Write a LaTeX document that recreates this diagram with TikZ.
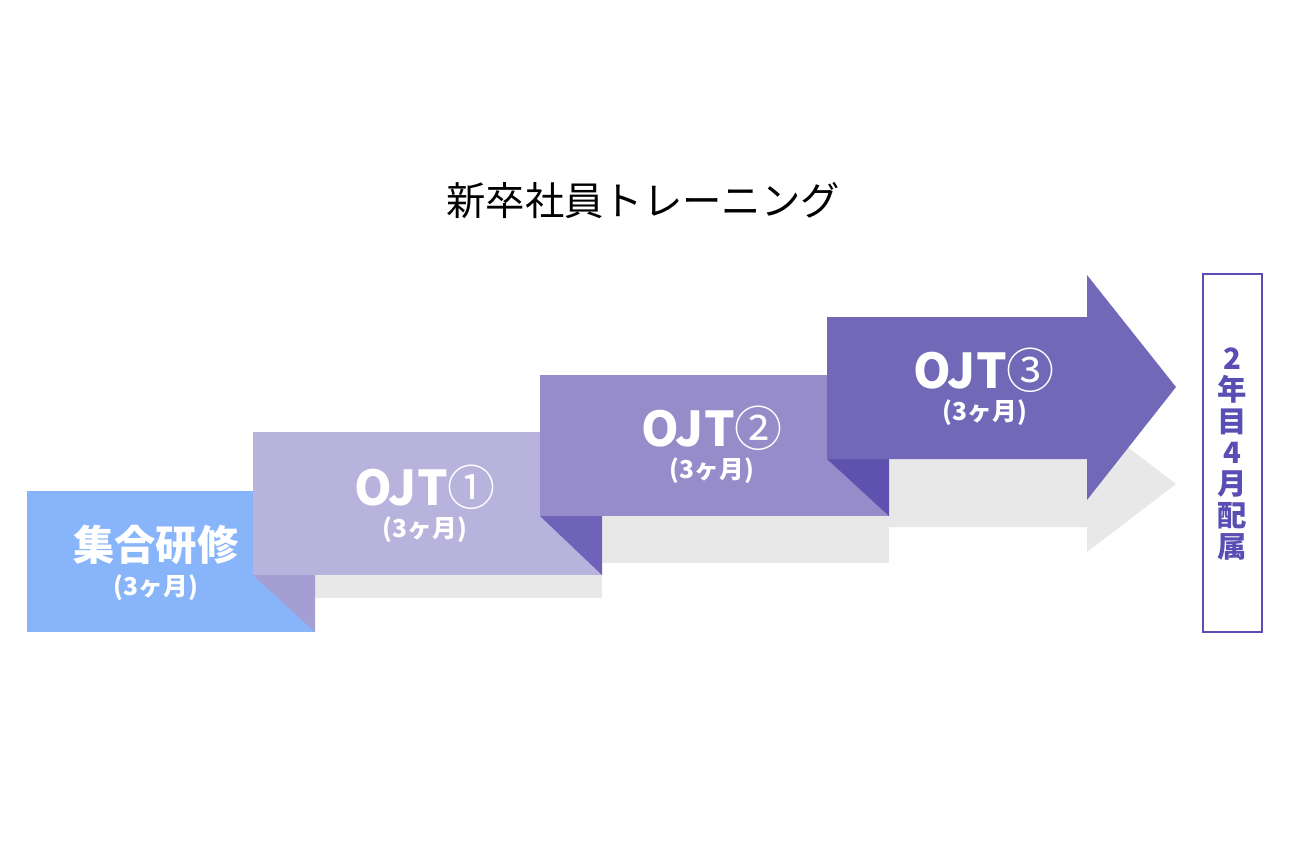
\documentclass[tikz,border=0pt]{standalone}
\usepackage{fontspec}
\newfontfamily\jp{Noto Sans CJK JP}
\definecolor{cblue}{HTML}{88B4FA}
\definecolor{cb2}{HTML}{B8B3DC}
\definecolor{cf1}{HTML}{A49ED2}
\definecolor{cb3}{HTML}{958CC9}
\definecolor{cf2}{HTML}{6F63B9}
\definecolor{cb4}{HTML}{7268B8}
\definecolor{cf3}{HTML}{5F52AE}
\definecolor{cgray}{HTML}{E8E8E8}
\definecolor{cbox}{HTML}{5A4DB3}
\tikzset{
  big/.style={text=white,font=\jp\bfseries\fontsize{36pt}{40pt}\selectfont,inner sep=0pt},
  kanji/.style={text=white,font=\jp\bfseries\fontsize{31pt}{34pt}\selectfont,inner sep=0pt},
  dur/.style={text=white,font=\jp\bfseries\fontsize{18.5pt}{22pt}\selectfont,inner sep=0pt},
}
\newcommand{\circnum}[1]{{\mdseries #1}}
\begin{document}
\begin{tikzpicture}[x=0.75pt,y=-0.75pt]
\useasboundingbox[fill=white] (0,0) rectangle (1290,840);
% title
\node[font=\jp\fontsize{29.5pt}{32pt}\selectfont,inner sep=0pt] (title) at (643,201) {新卒社員トレーニング};
% gray shadows
\fill[cgray] (315,575) rectangle (602,598);
\fill[cgray] (602,516) rectangle (889,563);
\fill[cgray] (889,441) -- (1087,441) -- (1087,416) -- (1176,484) -- (1087,552) -- (1087,527) -- (889,527) -- cycle;
% block 1
\fill[cblue] (27,491) rectangle (315,632);
% block 2
\fill[cb2] (253,432) rectangle (602,575);
\fill[cf1] (253,575) -- (315,575) -- (315,632) -- cycle;
% block 3
\fill[cb3] (540,375) rectangle (889,516);
\fill[cf2] (540,516) -- (602,516) -- (602,575) -- cycle;
% block 4 arrow
\fill[cb4] (827,317) -- (1087,317) -- (1087,275) -- (1176,387) -- (1087,500) -- (1087,459) -- (827,459) -- cycle;
\fill[cf3] (827,459) -- (889,459) -- (889,516) -- cycle;
% texts
\node[kanji] (t1) at (156,545) {集合研修};
\node[dur] (d1) at (156,588) {(3ヶ月)};
\node[big] (t2) at (425,487) {OJT\circnum{①}};
\node[dur] (d2) at (425,530) {(3ヶ月)};
\node[big] (t3) at (712,428) {OJT\circnum{②}};
\node[dur] (d3) at (712,471) {(3ヶ月)};
\node[big] (t4) at (984,370) {OJT\circnum{③}};
\node[dur] (d4) at (985,413) {(3ヶ月)};
% right box
\draw[cbox,line width=1.5pt] (1203,274) rectangle (1262,632);
\node[text=cbox,font=\jp\bfseries\fontsize{22pt}{23.6pt}\selectfont,align=center,inner sep=0pt] (box) at (1232,454) {2\\年\\目\\4\\月\\配\\属};
\end{tikzpicture}
\end{document}
